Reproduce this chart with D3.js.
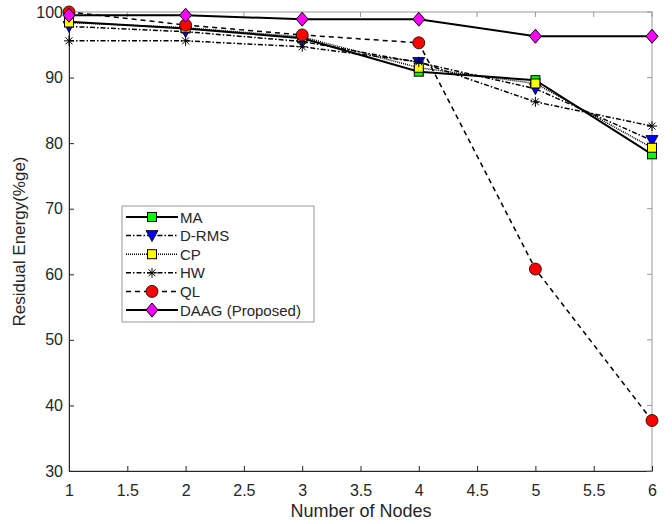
<!DOCTYPE html>
<html><head><meta charset="utf-8">
<script src="https://cdn.jsdelivr.net/npm/d3@7"></script>
<style>body{margin:0;background:#fff}svg{display:block}text{font-family:"Liberation Sans",Arial,sans-serif}</style>
</head><body><svg id="c" width="672" height="524"></svg>
<script>
const nodes = [1, 2, 3, 4, 5, 6];
const MA    = [98.5, 97.5, 96.0, 90.9, 89.6, 78.3];
const DRMS  = [97.8, 97.0, 95.5, 92.3, 88.3, 80.4];
const CP    = [98.4, 97.6, 96.2, 91.5, 89.1, 79.3];
const HW    = [95.6, 95.6, 94.7, 92.4, 86.3, 82.6];
const QL    = [100.0, 98.0, 96.5, 95.3, 60.8, 37.7];
const DAAG  = [99.5, 99.5, 98.9, 98.9, 96.3, 96.3];
const xTicks = [1, 1.5, 2, 2.5, 3, 3.5, 4, 4.5, 5, 5.5, 6];
const yTicks = [30, 40, 50, 60, 70, 80, 90, 100];
const names = ["MA", "D-RMS", "CP", "HW", "QL", "DAAG (Proposed)"];

const series = [
  {name: names[0], v: MA,   dash: null,          marker: "square",   fill: "#00ff00"},
  {name: names[1], v: DRMS, dash: "5,2,1.5,2",   marker: "triangle", fill: "#0000ff"},
  {name: names[2], v: CP,   dash: "1,1",         marker: "square",   fill: "#ffff00"},
  {name: names[3], v: HW,   dash: "5,2,1.5,2",   marker: "star",     fill: "none"},
  {name: names[4], v: QL,   dash: "5,4",         marker: "circle",   fill: "#ff0000"},
  {name: names[5], v: DAAG, dash: null,          marker: "diamond",  fill: "#ff00ff"}
];

const L = 69, R = 652, T = 12, B = 471;
const x = d3.scaleLinear().domain([1, 6]).range([L, R]);
const y = d3.scaleLinear().domain([30, 100]).range([B, T]);
const svg = d3.select("#c");
const axCol = "#262626";

// box
svg.append("rect").attr("x", L).attr("y", T).attr("width", R - L).attr("height", B - T)
  .attr("fill", "none").attr("stroke", "#999").attr("stroke-width", 1);

// axes
const xa = svg.append("g").attr("transform", `translate(0,${B})`)
  .call(d3.axisBottom(x).tickValues(xTicks).tickSizeInner(-5).tickSizeOuter(0).tickPadding(14).tickFormat(d3.format("")));
const ya = svg.append("g").attr("transform", `translate(${L},0)`)
  .call(d3.axisLeft(y).tickValues(yTicks).tickSizeInner(-5).tickSizeOuter(0).tickPadding(6));
[xa, ya].forEach(g => {
  g.select(".domain").attr("stroke", axCol);
  g.selectAll(".tick line").attr("stroke", axCol);
  g.selectAll("text").attr("fill", axCol).attr("font-size", 16).attr("font-family", "Liberation Sans, Arial, sans-serif");
});
// top/right ticks
svg.append("g").selectAll("line").data(xTicks).join("line")
  .attr("x1", d => x(d)).attr("x2", d => x(d)).attr("y1", T).attr("y2", T + 5).attr("stroke", "#999");
svg.append("g").selectAll("line").data(yTicks).join("line")
  .attr("x1", R).attr("x2", R - 5).attr("y1", d => y(d)).attr("y2", d => y(d)).attr("stroke", "#999");

svg.append("text").attr("x", 361).attr("y", 517).attr("text-anchor", "middle")
  .attr("font-size", 18).attr("fill", axCol).text("Number of Nodes");
svg.append("text").attr("transform", `translate(25,${(T + B) / 2}) rotate(-90)`).attr("text-anchor", "middle")
  .attr("font-size", 17).attr("fill", axCol).text("Residual Energy(%ge)");

function drawMarker(g, type, fill, cx, cy) {
  if (type === "square") {
    g.append("rect").attr("x", cx - 4.5).attr("y", cy - 4.5).attr("width", 9).attr("height", 9)
      .attr("fill", fill).attr("stroke", "#000").attr("stroke-width", 1);
  } else if (type === "circle") {
    g.append("circle").attr("cx", cx).attr("cy", cy).attr("r", 6)
      .attr("fill", fill).attr("stroke", "#000").attr("stroke-width", 0.8);
  } else if (type === "triangle") {
    g.append("path").attr("d", `M${cx - 6},${cy - 5}L${cx + 6},${cy - 5}L${cx},${cy + 6}Z`)
      .attr("fill", fill).attr("stroke", "#000").attr("stroke-width", 0.8);
  } else if (type === "diamond") {
    g.append("path").attr("d", `M${cx},${cy - 7}L${cx + 6},${cy}L${cx},${cy + 7}L${cx - 6},${cy}Z`)
      .attr("fill", fill).attr("stroke", "#000").attr("stroke-width", 1);
  } else if (type === "star") {
    const s = 5;
    const p = `M${cx - s},${cy}L${cx + s},${cy}M${cx},${cy - s}L${cx},${cy + s}` +
      `M${cx - s * 0.7},${cy - s * 0.7}L${cx + s * 0.7},${cy + s * 0.7}M${cx - s * 0.7},${cy + s * 0.7}L${cx + s * 0.7},${cy - s * 0.7}`;
    g.append("path").attr("d", p).attr("stroke", "#000").attr("stroke-width", 1).attr("fill", "none");
  }
}

const line = d3.line().x((d, i) => x(nodes[i])).y(d => y(d));
series.forEach(s => {
  const g = svg.append("g");
  g.append("path").attr("d", line(s.v)).attr("fill", "none").attr("stroke", "#000")
    .attr("stroke-width", s.name === "MA" || s.name.startsWith("DAAG") ? 2 : 1.5)
    .attr("stroke-dasharray", s.dash);
  s.v.forEach((v, i) => drawMarker(g, s.marker, s.fill, x(nodes[i]), y(v)));
});

// legend
const lg = svg.append("g");
lg.append("rect").attr("x", 122).attr("y", 206).attr("width", 192).attr("height", 116)
  .attr("fill", "#fff").attr("stroke", "#999").attr("stroke-width", 1);
series.forEach((s, i) => {
  const yy = 217 + i * 18.6;
  lg.append("line").attr("x1", 126).attr("x2", 178).attr("y1", yy).attr("y2", yy)
    .attr("stroke", "#000").attr("stroke-width", s.name === "MA" || s.name.startsWith("DAAG") ? 2 : 1.5)
    .attr("stroke-dasharray", s.dash);
  drawMarker(lg, s.marker, s.fill, 152, yy);
  lg.append("text").attr("x", 180).attr("y", yy + 5.5).attr("font-size", 15).attr("fill", axCol).text(s.name);
});
</script></body></html>
